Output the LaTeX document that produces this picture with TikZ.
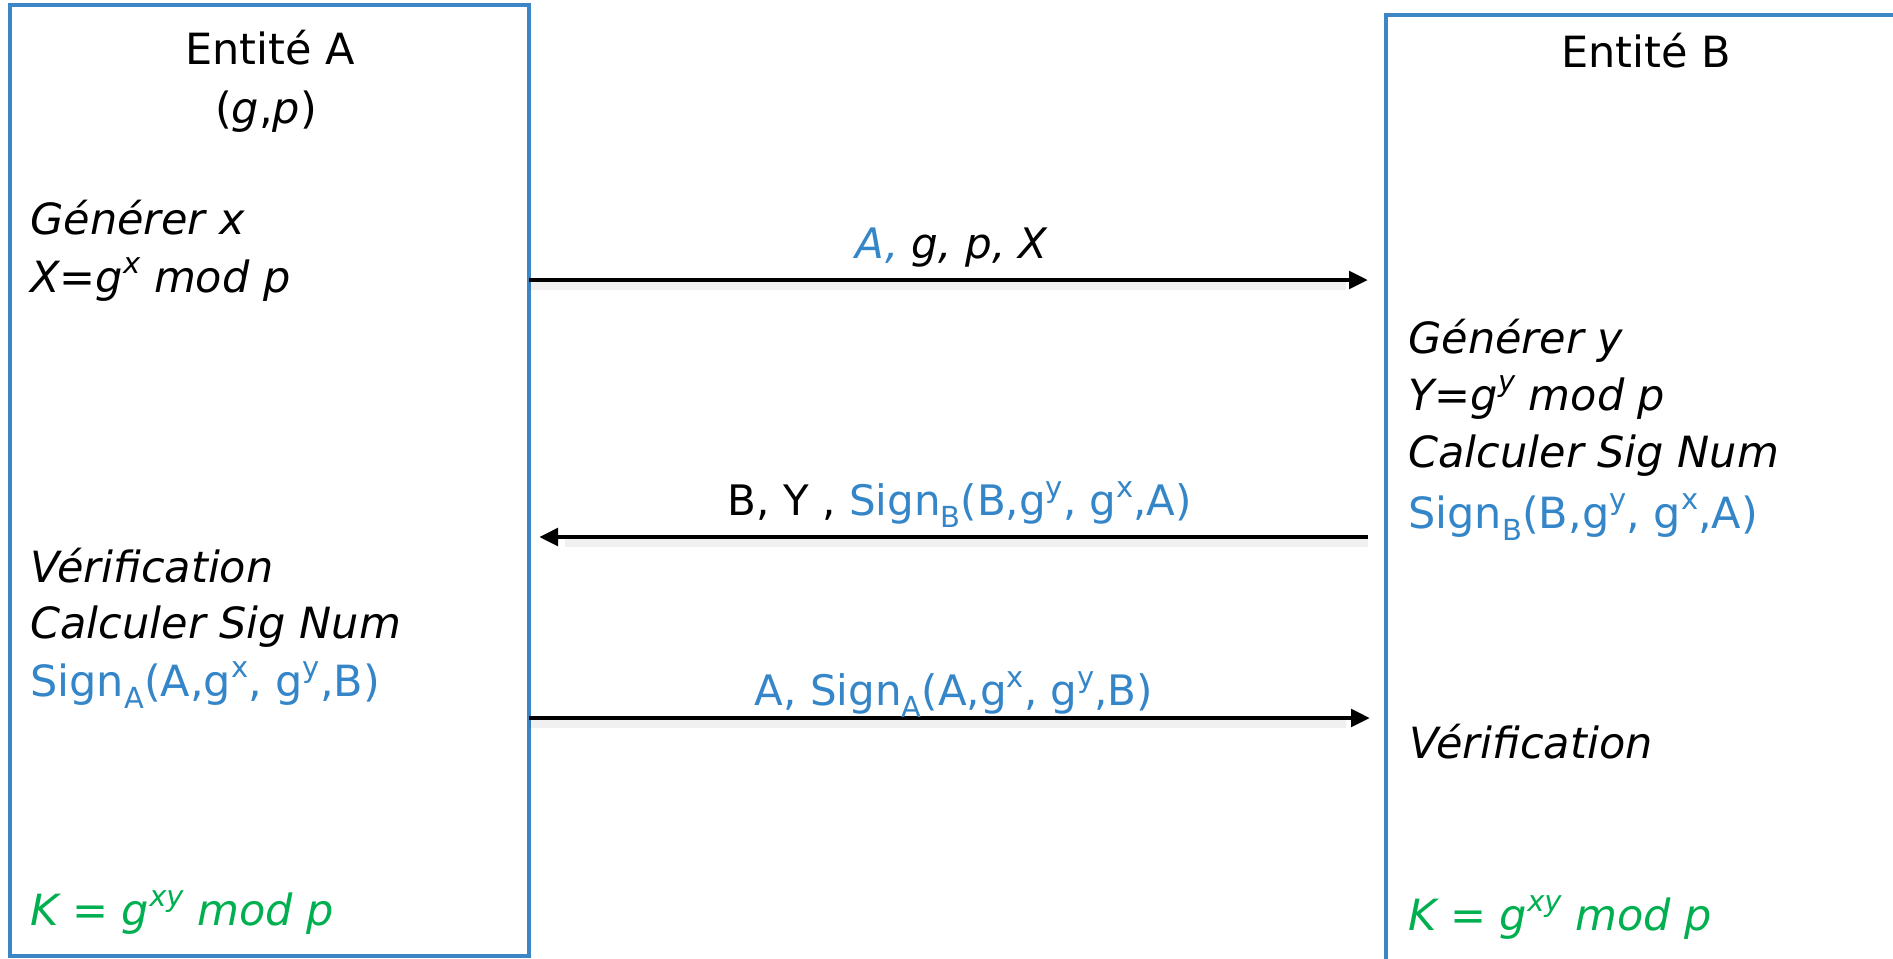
\documentclass[tikz,border=0pt]{standalone}
\usepackage{fontspec}
\setmainfont{DejaVu Sans}
\usetikzlibrary{arrows.meta}
\definecolor{boxblue}{RGB}{60,134,198}
\definecolor{txtblue}{RGB}{52,134,200}
\definecolor{keygreen}{RGB}{0,176,80}
\newcommand{\lowsub}[1]{\raisebox{-0.3em}{\fontsize{14.5}{15}\selectfont #1}}
\newcommand{\highsup}[1]{\raisebox{0.42em}{\fontsize{14.5}{15}\selectfont #1}}
\begin{document}
\begin{tikzpicture}[x=0.5pt,y=-0.5pt,
  entity/.style={draw=boxblue, line width=1.6pt, minimum width=259.5pt, minimum height=475.5pt, inner sep=0pt, outer sep=0pt},
  txt/.style={inner sep=0pt, anchor=base west, font=\fontsize{21.5}{26}\selectfont},
  title/.style={inner sep=0pt, anchor=base, font=\fontsize{21.5}{26}\selectfont},
  lbl/.style={inner sep=0pt, anchor=base, font=\fontsize{21}{26}\selectfont},
  msg/.style={line width=2.4pt, -{Triangle[length=9.5pt, width=8.5pt]}},
  msgshadow/.style={line width=5pt, black, opacity=0.06}
]
\useasboundingbox (0,0) rectangle (1893,958);
\clip (0,0) rectangle (1893,958);
\fill[white] (0,0) rectangle (1893,958);

% entity boxes
\node[entity] (boxA) at (269.5,480.5) {};
\node[entity] (boxB) at (1645.5,490.5) {};

% entity A texts
\node[title] (tA) at (270,64) {Entité A};
\node[title] (gp) at (266,123) {(\textit{g},\textit{p})};
\node[txt] (a1) at (30,234) {\textit{Générer x}};
\node[txt] (a2) at (30,292) {\textit{X=g\highsup{x} mod p}};
\node[txt] (a3) at (30,582) {\textit{Vérification}};
\node[txt] (a4) at (30,638) {\textit{Calculer Sig Num}};
\node[txt, text=txtblue] (a5) at (30,696) {Sign\lowsub{A}(A,g\highsup{x}, g\highsup{y},B)};
\node[txt, text=keygreen] (a6) at (30,925) {\textit{K = g\highsup{xy} mod p}};

% entity B texts
\node[title] (tB) at (1646,67) {Entité B};
\node[txt] (b1) at (1408,353) {\textit{Générer y}};
\node[txt] (b2) at (1408,410) {\textit{Y=g\highsup{y} mod p}};
\node[txt] (b3) at (1408,467) {\textit{Calculer Sig Num}};
\node[txt, text=txtblue] (b4) at (1408,528) {Sign\lowsub{B}(B,g\highsup{y}, g\highsup{x},A)};
\node[txt] (b5) at (1409,758) {\textit{Vérification}};
\node[txt, text=keygreen] (b6) at (1408,930) {\textit{K = g\highsup{xy} mod p}};

% message levels
\coordinate (m1) at (0,280);
\coordinate (m2) at (0,537);
\coordinate (m3) at (0,718);
\coordinate (s1) at (0,285);
\coordinate (s2) at (0,542);
\coordinate (s3) at (0,723);

% shadows
\draw[msgshadow] (boxA.east |- s1) -- ([xshift=-20]boxB.west |- s1);
\draw[msgshadow] ([xshift=-9]boxB.west |- s2) -- ([xshift=18]boxA.east |- s2);
\draw[msgshadow] (boxA.east |- s3) -- ([xshift=-20]boxB.west |- s3);

% messages
\draw[msg] (boxA.east |- m1) -- ([xshift=-9]boxB.west |- m1);
\draw[msg] ([xshift=-9]boxB.west |- m2) -- ([xshift=5]boxA.east |- m2);
\draw[msg] (boxA.east |- m3) -- ([xshift=-8]boxB.west |- m3);

% message labels
\node[lbl] (l1) at (952,258) {\textit{\textcolor{txtblue}{A,} g, p, X}};
\node[lbl] (l2) at (960,515) {B, Y , \textcolor{txtblue}{Sign\lowsub{B}(B,g\highsup{y}, g\highsup{x},A)}};
\node[lbl, text=txtblue] (l3) at (954,705) {A, Sign\lowsub{A}(A,g\highsup{x}, g\highsup{y},B)};
\end{tikzpicture}
\end{document}
